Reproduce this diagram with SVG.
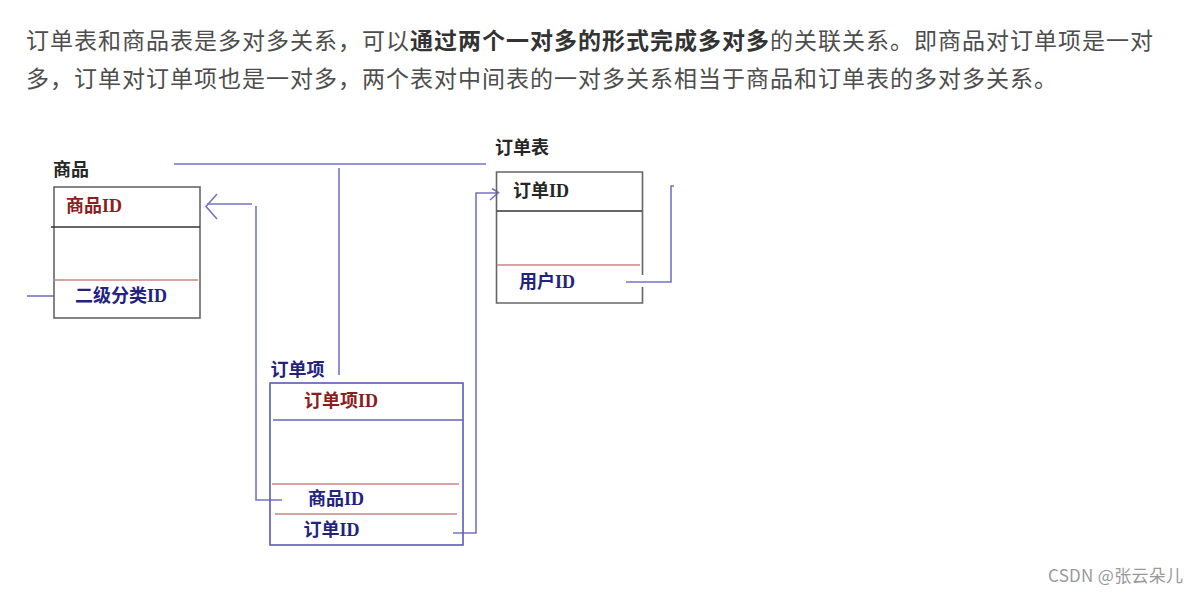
<svg xmlns="http://www.w3.org/2000/svg" width="1200" height="594" viewBox="0 0 1200 594">
<style>
.p{font-family:"Noto Sans CJK SC","Noto Sans",sans-serif;font-size:23px;letter-spacing:1px;fill:#4d4d4d}
.b{font-weight:bold;fill:#333}
.l{font-family:"Liberation Serif","Noto Sans CJK SC",serif;font-size:18px;font-weight:bold}
.dk{fill:#262626}
.rd{fill:#8b1e1e}
.bl{fill:#23237e}
.box{fill:none;stroke:#666;stroke-width:1.6}
.bbox{fill:none;stroke:#5a5ab4;stroke-width:1.6}
.sep{stroke:#333;stroke-width:1.3}
.red{stroke:#cc8484;stroke-width:1.6}
.bsep{stroke:#6464b4;stroke-width:1.6}
.c{fill:none;stroke:#7474c6;stroke-width:1.6}
.wm{font-family:"Noto Sans CJK SC","Liberation Sans",sans-serif;font-size:17px;letter-spacing:0.3px;fill:#999}
</style>
<rect width="1200" height="594" fill="#fff"/>
<g id="paragraph">
<text class="p" x="26" y="48.5">订单表和商品表是多对多关系，可以<tspan class="b">通过两个一对多的形式完成多对多</tspan>的关联关系。即商品对订单项是一对</text>
<text class="p" x="26" y="86.5">多，订单对订单项也是一对多，两个表对中间表的一对多关系相当于商品和订单表的多对多关系。</text>
</g>
<g id="connectors">
<path class="c" d="M174 164H486"/>
<path class="c" d="M339 168V375"/>
<path class="c" d="M27 296H54"/>
<path class="c" d="M252 204H207"/>
<path class="c" d="M217 194L206 206.5L217 219"/>
<path class="c" d="M256 206V500H282"/>
<path class="c" d="M453 533H476V193H498"/>
<path class="c" d="M492 188.5L498.5 192.5L490 200"/>
<path class="c" d="M626 282H671V186H674"/>
</g>
<g id="node-shangpin">
<text class="l dk" x="53" y="175.5">商品</text>
<rect class="box" x="54" y="187" width="146" height="131"/>
<line class="sep" x1="51" y1="227" x2="200" y2="227"/>
<line class="red" x1="54" y1="280" x2="198" y2="280"/>
<text class="l rd" x="66" y="212">商品ID</text>
<text class="l bl" x="75" y="302">二级分类ID</text>
</g>
<g id="node-dingdanbiao">
<text class="l dk" x="495" y="154">订单表</text>
<path class="box" d="M642.5 275V172H496.5V303H642.5V287"/>
<line class="sep" x1="497" y1="211" x2="642" y2="211"/>
<line class="red" x1="497" y1="265" x2="640" y2="265"/>
<text class="l dk" x="513" y="197">订单ID</text>
<text class="l bl" x="519" y="288">用户ID</text>
</g>
<g id="node-dingdanxiang">
<text class="l bl" x="270.5" y="375.5">订单项</text>
<rect class="bbox" x="270" y="383" width="193" height="162"/>
<line class="bsep" x1="273" y1="420" x2="463" y2="420"/>
<line class="red" x1="272" y1="484" x2="459" y2="484"/>
<line class="red" x1="275" y1="514" x2="457" y2="514"/>
<text class="l rd" x="304" y="406.5">订单项ID</text>
<text class="l bl" x="308" y="505">商品ID</text>
<text class="l bl" x="303.5" y="535.5">订单ID</text>
</g>
<text class="wm" x="1048" y="582">CSDN @张云朵儿</text>
</svg>
